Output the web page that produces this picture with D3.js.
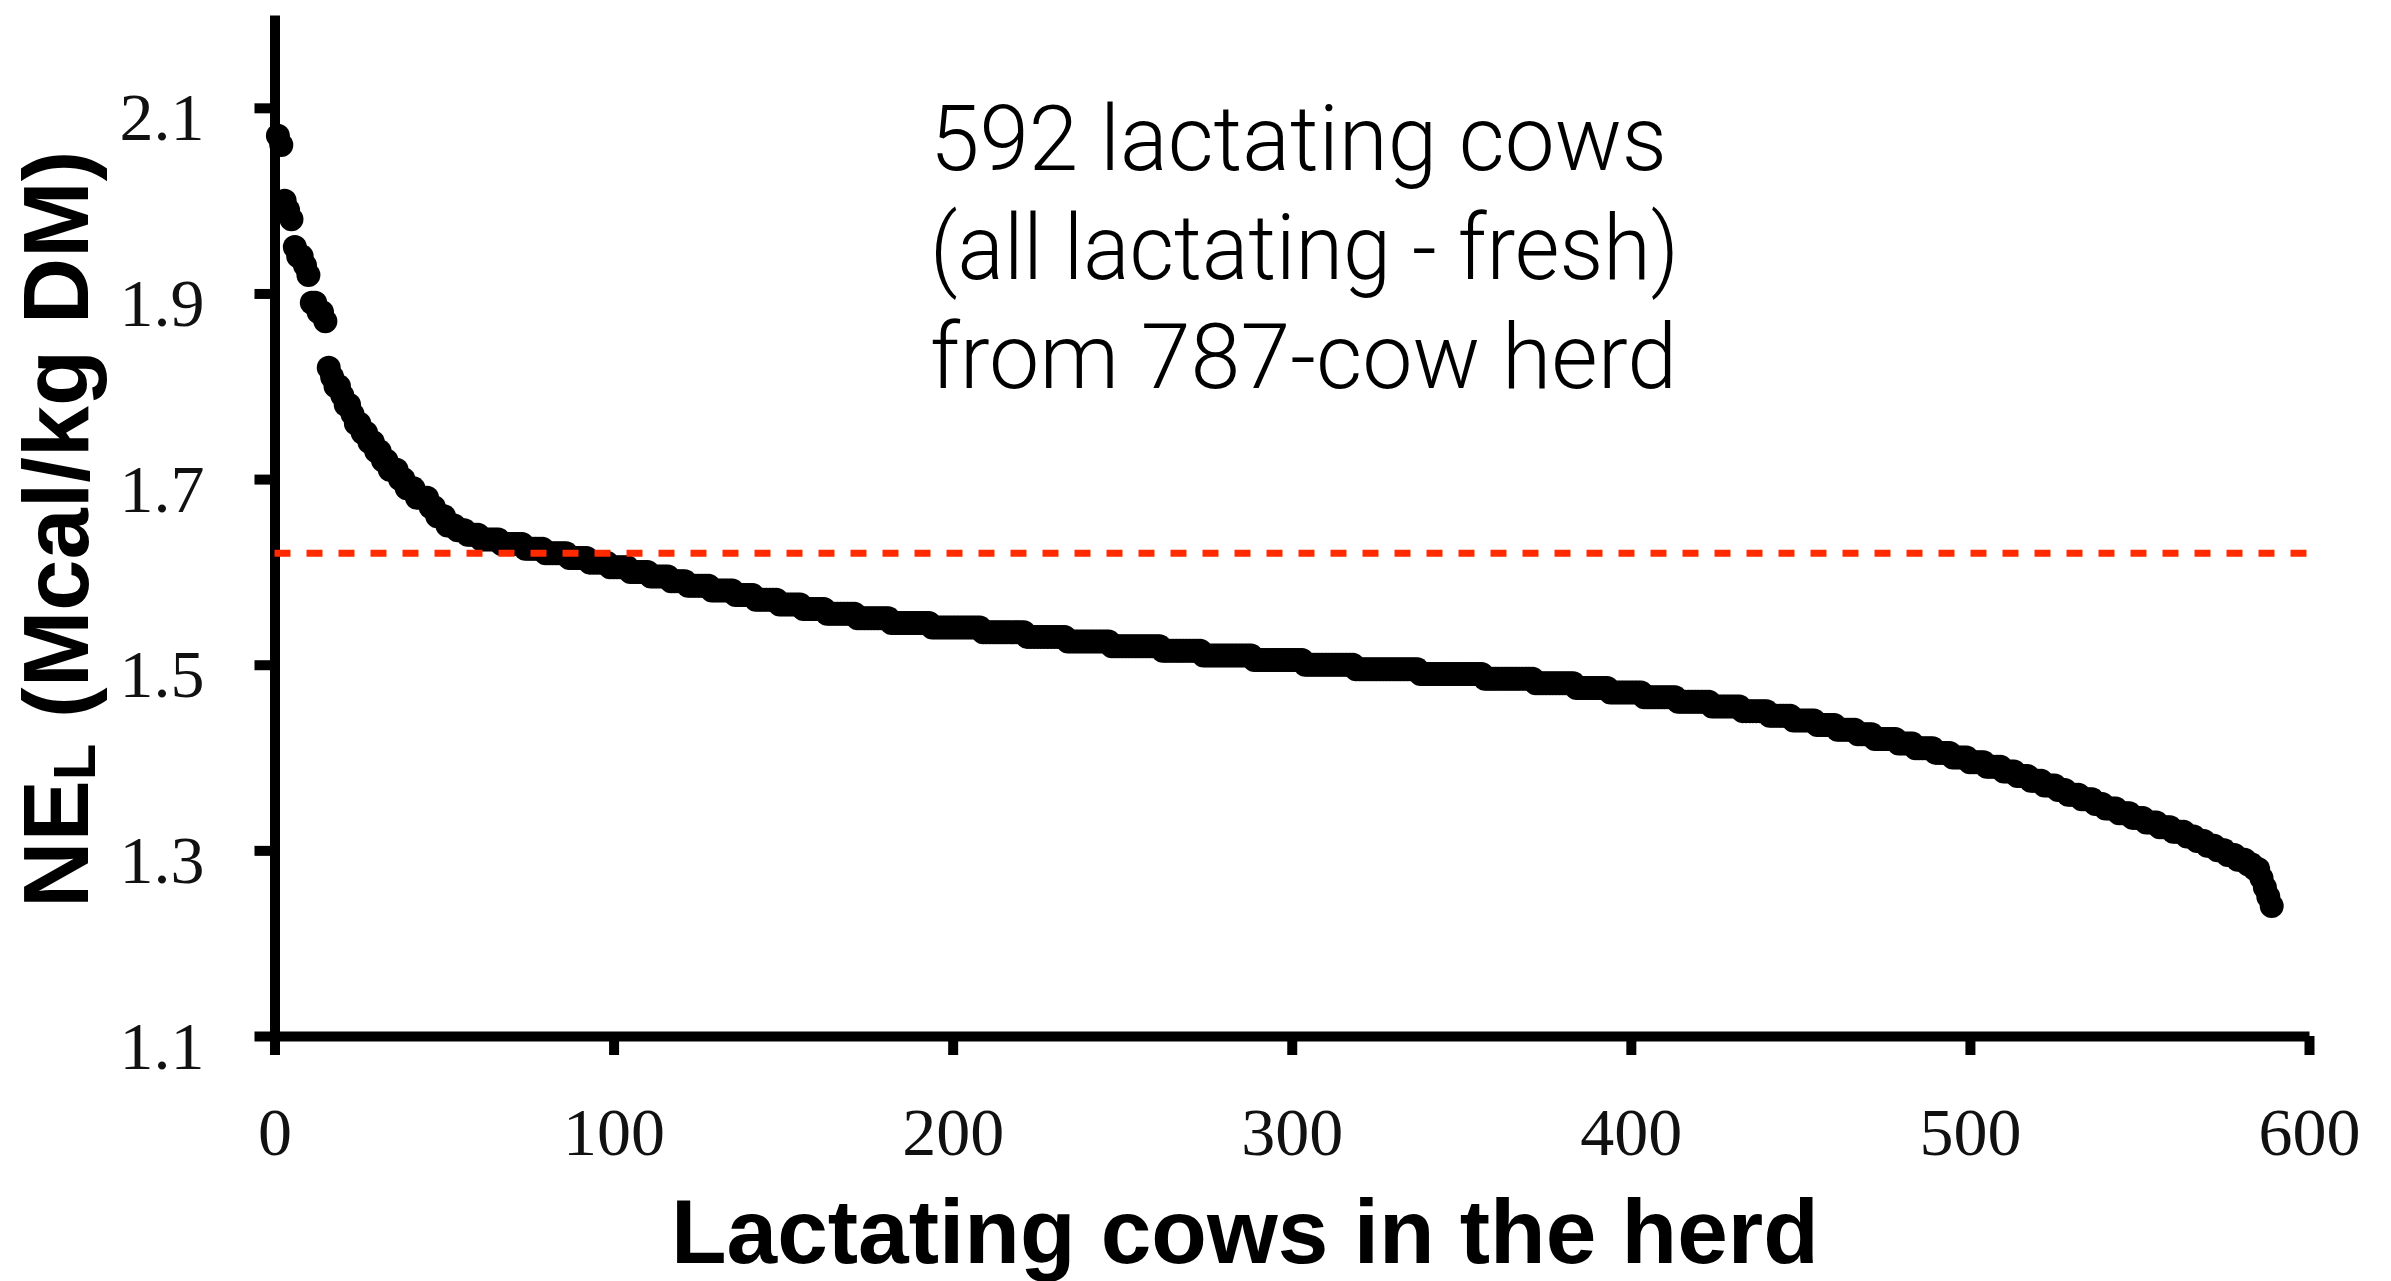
<!DOCTYPE html>
<html>
<head>
<meta charset="utf-8" />
<style>
    body { margin: 0; background: #fff; }
    .tick text {
        font-family: "Liberation Serif", "Times New Roman", serif;
        font-size: 68px;
        fill: #111;
    }
    .title {
        font-family: "Liberation Sans", Arial, Helvetica, sans-serif;
        font-weight: bold;
        fill: #000;
    }
    .note {
        font-family: Roboto, "Open Sans", sans-serif;
        font-weight: 300;
        font-size: 90px;
        fill: #000;
    }
</style>
</head>
<body>
<svg width="2391" height="1281"></svg>
<script src="https://d3js.org/d3.v7.min.js"></script>
<script>
    // NEL (Mcal/kg DM) levels, highest first
    var nelValues = [2.07, 2.06, 2.00, 1.99, 1.98, 1.95, 1.94, 1.93, 1.92, 1.89, 1.88, 1.87,
        1.82, 1.81, 1.80, 1.79, 1.78, 1.77, 1.76, 1.75, 1.74, 1.73, 1.72, 1.71, 1.70,
        1.69, 1.68, 1.67, 1.66, 1.65,
        1.645, 1.640, 1.635, 1.630, 1.625, 1.620, 1.615, 1.610, 1.605, 1.600,
        1.595, 1.590, 1.585, 1.580, 1.575, 1.570, 1.565, 1.560, 1.555, 1.550,
        1.545, 1.540, 1.535, 1.530, 1.525, 1.520, 1.515, 1.510, 1.505, 1.500,
        1.495, 1.490, 1.485, 1.480, 1.475, 1.470, 1.465, 1.460, 1.455, 1.450,
        1.445, 1.440, 1.435, 1.430, 1.425, 1.420, 1.415, 1.410, 1.405, 1.400,
        1.395, 1.390, 1.385, 1.380, 1.375, 1.370, 1.365, 1.360, 1.355, 1.350,
        1.345, 1.340, 1.335, 1.330, 1.325, 1.320, 1.315, 1.310, 1.305, 1.300,
        1.295, 1.290, 1.285, 1.28, 1.27, 1.26, 1.25, 1.24];
    // number of cows at each level
    var cowCounts = [1, 1, 1, 1, 1, 1, 2, 1, 1, 2, 2, 1,
        1, 1, 2, 1, 2, 1, 2, 2, 2, 2, 2, 3, 2,
        3, 4, 2, 3, 3,
        3, 4, 6, 7, 6, 7, 6, 6, 6, 6,
        6, 5, 7, 7, 6, 7, 7, 7, 9, 10,
        12, 15, 13, 12, 13, 15, 12, 15, 15, 15,
        19, 19, 15, 12, 10, 10, 10, 10, 9, 8,
        7, 7, 6, 6, 5, 7, 5, 6, 5, 5,
        5, 5, 4, 4, 4, 4, 3, 4, 4, 3,
        4, 4, 4, 4, 4, 4, 3, 3, 3, 3,
        3, 3, 2, 2, 1, 1, 1, 1];

    var xTicks = [0, 100, 200, 300, 400, 500, 600];
    var yTicks = [1.1, 1.3, 1.5, 1.7, 1.9, 2.1];
    var refLevel = 1.62;
    var noteLines = ["592 lactating cows", "(all lactating - fresh)", "from 787-cow herd"];

    var svg = d3.select("svg");

    var x = d3.scaleLinear().domain([0, 600]).range([274.5, 2309]);
    var y = d3.scaleLinear().domain([1.1, 2.2]).range([1036, 15]);

    // one point per cow, ranked from highest to lowest
    var cows = [];
    var rank = 0;
    nelValues.forEach(function (v, i) {
        for (var k = 0; k < cowCounts[i]; k++) {
            rank++;
            cows.push({ rank: rank, nel: v });
        }
    });

    // axes
    var xAxis = svg.append("g")
        .attr("transform", "translate(0," + y(1.1) + ")")
        .call(d3.axisBottom(x).tickValues(xTicks).tickSizeInner(19).tickSizeOuter(0));
    xAxis.select(".domain").attr("stroke-width", 10);
    xAxis.selectAll(".tick line").attr("stroke-width", 10);
    xAxis.selectAll(".tick text").attr("y", 119).attr("dy", null);

    var yAxis = svg.append("g")
        .attr("transform", "translate(" + x(0) + ",0)")
        .call(d3.axisLeft(y).tickValues(yTicks).tickSizeInner(20).tickSizeOuter(0)
            .tickFormat(d3.format(".1f")));
    yAxis.select(".domain").attr("stroke-width", 10);
    yAxis.selectAll(".tick line").attr("stroke-width", 10);
    yAxis.selectAll(".tick text").attr("x", -70).attr("y", 32).attr("dy", null);

    // cows
    svg.append("g")
        .selectAll("circle")
        .data(cows)
        .enter()
        .append("circle")
        .attr("cx", function (d) { return x(d.rank); })
        .attr("cy", function (d) { return y(d.nel); })
        .attr("r", 12)
        .attr("fill", "#000");

    // reference level
    svg.append("line")
        .attr("x1", x(0))
        .attr("x2", x(603))
        .attr("y1", y(refLevel))
        .attr("y2", y(refLevel))
        .attr("stroke", "#ff2a00")
        .attr("stroke-width", 7)
        .attr("stroke-dasharray", "16,16");

    // note
    var noteWidths = [737, 749, 747];
    svg.append("g")
        .selectAll("text")
        .data(noteLines)
        .enter()
        .append("text")
        .attr("class", "note")
        .attr("x", 930)
        .attr("y", function (d, i) { return 170 + i * 109; })
        .attr("textLength", function (d, i) { return noteWidths[i]; })
        .attr("lengthAdjust", "spacingAndGlyphs")
        .text(function (d) { return d; });

    // axis titles
    svg.append("text")
        .attr("class", "title")
        .attr("x", 671)
        .attr("y", 1263)
        .attr("font-size", 91)
        .text("Lactating cows in the herd");

    var yTitle = svg.append("text")
        .attr("class", "title")
        .attr("transform", "translate(88,908) rotate(-90)")
        .attr("font-size", 92);
    yTitle.append("tspan").text("NE");
    yTitle.append("tspan").attr("font-size", 60).attr("dy", 7).text("L");
    yTitle.append("tspan").attr("dy", -7).text(" (Mcal/kg DM)");
</script>
</body>
</html>
